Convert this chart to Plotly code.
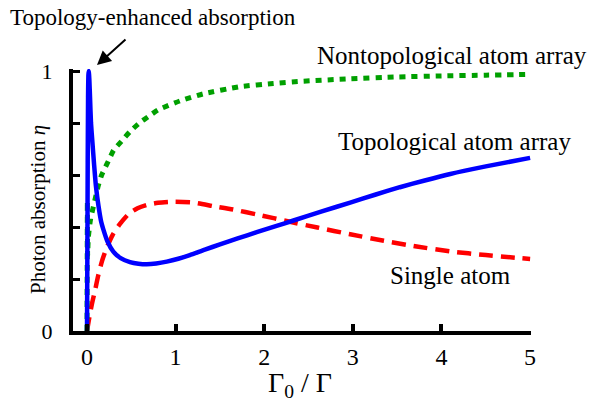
import plotly.graph_objects as go

# ---- data ----
single_x = [0, 0.02, 0.053, 0.09, 0.128, 0.17, 0.222, 0.29, 0.372, 0.47, 0.57, 0.674, 0.8, 0.974,
            1.2, 1.43, 1.65, 1.92, 2.29, 2.6, 2.97, 3.35, 3.72, 4.1, 4.5, 5.0]
single_y = [0.0, 0.04, 0.1, 0.155, 0.215, 0.27, 0.32, 0.37, 0.412, 0.45, 0.472, 0.485, 0.493, 0.497,
            0.494, 0.48, 0.467, 0.448, 0.42, 0.398, 0.372, 0.347, 0.325, 0.306, 0.292, 0.277]

nontopo_x = [0, 0.002, 0.004, 0.007, 0.015, 0.04, 0.08, 0.128, 0.165, 0.2, 0.25, 0.3, 0.39, 0.485,
             0.59, 0.69, 0.8, 1.05, 1.31, 1.73, 2.1, 2.4, 2.97, 3.5, 4.0, 4.5, 5.0]
nontopo_y = [0, 0.25, 0.5, 0.29, 0.36, 0.43, 0.49, 0.56, 0.6, 0.625, 0.66, 0.695, 0.73, 0.767,
             0.8, 0.824, 0.85, 0.885, 0.912, 0.94, 0.952, 0.96, 0.97, 0.977, 0.981, 0.984, 0.987]

topo_x = [0, 0.004, 0.008, 0.012, 0.016, 0.02, 0.026, 0.035, 0.045, 0.06, 0.08, 0.1, 0.13, 0.16,
          0.185, 0.23, 0.297, 0.38, 0.485, 0.58, 0.674, 0.78, 0.9, 1.03, 1.16, 1.33, 1.5, 1.7,
          1.915, 2.13, 2.33, 2.65, 2.97, 3.25, 3.53, 3.8, 4.1, 4.5, 5.0]
topo_y = [0, 0.3, 0.65, 0.9, 0.985, 1.0, 0.97, 0.89, 0.8, 0.73, 0.64, 0.56, 0.48, 0.42,
          0.39, 0.345, 0.305, 0.28, 0.265, 0.259, 0.257, 0.26, 0.267, 0.278, 0.292, 0.313, 0.333, 0.356,
          0.38, 0.403, 0.425, 0.46, 0.494, 0.524, 0.553, 0.578, 0.604, 0.633, 0.666]

x_ticks = [0, 1, 2, 3, 4, 5]
y_ticks = [0, 0.2, 0.4, 0.6, 0.8, 1.0]
y_ticktext = ["0", "", "", "", "", "1"]

FONT = "Liberation Serif, Times New Roman, serif"

fig = go.Figure()
fig.add_trace(go.Scatter(x=single_x, y=single_y, mode="lines",
                         line=dict(color="#ff0000", width=4.5, dash="14px,8px",
                                   shape="spline", smoothing=0.6)))
fig.add_trace(go.Scatter(x=nontopo_x, y=nontopo_y, mode="lines",
                         line=dict(color="#00a000", width=5, dash="6px,6px",
                                   shape="spline", smoothing=0.5)))
fig.add_trace(go.Scatter(x=topo_x, y=topo_y, mode="lines",
                         line=dict(color="#0000ff", width=4.5, shape="spline", smoothing=0.5)))

fig.update_layout(
    width=592, height=404,
    margin=dict(l=73, r=61, t=69, b=73),
    plot_bgcolor="white", paper_bgcolor="white",
    showlegend=False,
    font=dict(family=FONT, color="black"),
    xaxis=dict(range=[-0.158, 5.01], tickvals=x_ticks, ticks="inside", ticklen=7, tickwidth=3.5,
               tickcolor="black", showline=True, linewidth=4, linecolor="black",
               showgrid=False, zeroline=False, tickfont=dict(size=24, family=FONT, color="black"),
               ticklabelstandoff=1),
    yaxis=dict(range=[0, 1.0077], tickvals=y_ticks, ticktext=y_ticktext, ticks="inside",
               ticklen=7, tickwidth=3, tickcolor="black", showline=True, linewidth=4,
               linecolor="black", showgrid=False, zeroline=False,
               tickfont=dict(size=22, family=FONT, color="black"), ticklabelstandoff=12),
)

# annotation positions in paper coordinates (plot area: x 73..531 px, y 69..331 px)
ann = [
    dict(text="Topology-enhanced absorption", x=0.1747, y=1.198, size=23),
    dict(text="Nontopological atom array", x=0.8275, y=1.053, size=25),
    dict(text="Topological atom array", x=0.834, y=0.7225, size=25),
    dict(text="Single atom", x=0.825, y=0.2137, size=25),
    dict(text="Γ<sub>0</sub> / Γ", x=0.4956, y=-0.204, size=28),
]
for a in ann:
    fig.add_annotation(text=a["text"], x=a["x"], y=a["y"], xref="paper", yref="paper",
                       xanchor="center", yanchor="middle",
                       showarrow=False, font=dict(size=a["size"], family=FONT, color="black"))

fig.add_annotation(text="Photon absorption <i>η</i>", x=-0.0764, y=0.462, xref="paper", yref="paper",
                   xanchor="center", yanchor="middle",
                   showarrow=False, textangle=-90, font=dict(size=21, family=FONT, color="black"))

fig.add_annotation(text="", x=0.0524, y=1.015, xref="paper", yref="paper", showarrow=True,
                   ax=30, ay=-27, arrowhead=2, arrowsize=1.4, arrowwidth=2, arrowcolor="black")

fig.write_html("out.html")
